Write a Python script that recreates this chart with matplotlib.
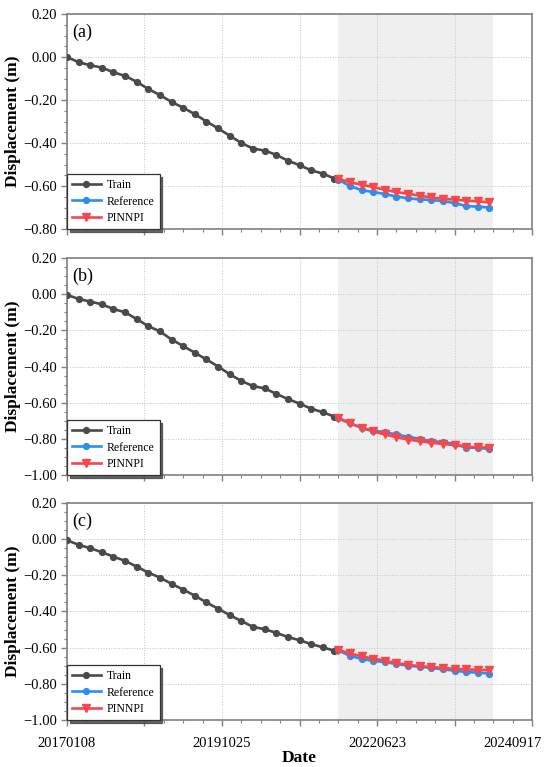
import numpy as np
import matplotlib
matplotlib.use("Agg")
import matplotlib.pyplot as plt
from matplotlib.ticker import MultipleLocator, FuncFormatter

plt.rcParams['font.family'] = ['Liberation Serif', 'DejaVu Serif']
plt.rcParams['axes.unicode_minus'] = True

# sample index of each marker (every 6th acquisition)
step = 6
n_train = 24
n_test = 14
test_start = 140
shade_span = (140, 220)

date_ticks = [0, 80, 160, 230]
date_labels = ['20170108', '20191025', '20220623', '20240917']

# panel (a)
train_a = [0.000, -0.024, -0.038, -0.049, -0.071, -0.088, -0.115, -0.149,
           -0.177, -0.209, -0.236, -0.266, -0.300, -0.332, -0.366, -0.400,
           -0.426, -0.435, -0.455, -0.482, -0.503, -0.527, -0.542, -0.565]
ref_a = [-0.570, -0.600, -0.619, -0.628, -0.637, -0.649, -0.657,
         -0.662, -0.665, -0.670, -0.679, -0.693, -0.696, -0.700]
pinn_a = [-0.566, -0.582, -0.594, -0.605, -0.617, -0.628, -0.636,
          -0.645, -0.653, -0.659, -0.663, -0.668, -0.671, -0.676]

# panel (b)
train_b = [-0.004, -0.026, -0.041, -0.056, -0.082, -0.100, -0.138, -0.177,
           -0.206, -0.251, -0.287, -0.324, -0.361, -0.400, -0.443, -0.480,
           -0.508, -0.521, -0.551, -0.580, -0.605, -0.633, -0.653, -0.677]
ref_b = [-0.683, -0.713, -0.739, -0.754, -0.763, -0.776, -0.789,
         -0.800, -0.813, -0.817, -0.828, -0.848, -0.850, -0.856]
pinn_b = [-0.687, -0.714, -0.739, -0.759, -0.776, -0.791, -0.804,
          -0.813, -0.822, -0.828, -0.835, -0.843, -0.847, -0.848]

# panel (c)
train_c = [-0.006, -0.031, -0.050, -0.072, -0.097, -0.120, -0.152, -0.185,
           -0.213, -0.247, -0.279, -0.313, -0.350, -0.385, -0.420, -0.453,
           -0.485, -0.498, -0.518, -0.541, -0.559, -0.580, -0.598, -0.617]
ref_c = [-0.615, -0.645, -0.662, -0.673, -0.680, -0.690, -0.700,
         -0.705, -0.712, -0.720, -0.727, -0.735, -0.738, -0.743]
pinn_c = [-0.612, -0.631, -0.648, -0.660, -0.672, -0.685, -0.695,
          -0.702, -0.707, -0.712, -0.717, -0.720, -0.723, -0.725]

panels = [('(a)', train_a, ref_a, pinn_a, -0.8),
          ('(b)', train_b, ref_b, pinn_b, -1.0),
          ('(c)', train_c, ref_c, pinn_c, -1.0)]

x_train = np.arange(n_train) * step
x_test = test_start + np.arange(n_test) * step

c_train = '#4a4a4a'
c_ref = '#2a8ff0'
c_pinn = '#f5474c'
spine_c = '#808080'


def yfmt(v, pos):
    if abs(v) < 1e-9:
        v = 0.0
    return f'{v:.2f}'.replace('-', '\u2212')


fig = plt.figure(figsize=(5.5, 7.67), dpi=100)
boxes = [[0.1218, 0.7014, 0.8455, 0.2803],
         [0.1218, 0.3807, 0.8455, 0.2829],
         [0.1218, 0.0613, 0.8455, 0.2829]]

maj = list(range(0, 241, 40))
minor = [t for t in range(0, 241, 10) if t % 40]

for i, (tag, tr, ref, pinn, ymin) in enumerate(panels):
    ax = fig.add_axes(boxes[i])
    ax.axvspan(*shade_span, color='#efefef', zorder=0, lw=0)
    ax.plot(x_train, tr, '-o', color=c_train, lw=1.9, ms=4.2, label='Train', zorder=3)
    ax.plot(x_test, ref, '-o', color=c_ref, lw=1.9, ms=4.2, label='Reference', zorder=3)
    ax.plot(x_test, pinn, '-v', color=c_pinn, lw=1.9, ms=5.2, label='PINNPI', zorder=4)

    ax.set_xticks(maj)
    ax.set_xticks(minor, minor=True)
    ax.set_xlim(0, 240)
    ax.set_ylim(ymin, 0.2)
    ax.yaxis.set_major_locator(MultipleLocator(0.2))
    ax.yaxis.set_minor_locator(MultipleLocator(0.05))
    ax.yaxis.set_major_formatter(FuncFormatter(yfmt))

    if i == 2:
        ax.set_xticklabels([date_labels[date_ticks.index(t)] if t in date_ticks else ''
                            for t in maj])
        ax.set_xticklabels([date_labels[date_ticks.index(t)] if t in date_ticks else ''
                            for t in minor], minor=True)
        ax.set_xlabel('Date', fontsize=12.5, fontweight='bold', labelpad=0)
    else:
        ax.set_xticklabels([])
        ax.set_xticklabels([], minor=True)

    ax.grid(True, which='major', ls=':', lw=0.7, color='#c4c4c4', zorder=1)
    ax.set_axisbelow(True)
    for s in ax.spines.values():
        s.set_color(spine_c)
        s.set_linewidth(1.2)
    ax.tick_params(axis='both', which='major', direction='out', length=4, width=1,
                   color=spine_c, labelsize=10.5, pad=3)
    ax.tick_params(axis='both', which='minor', direction='out', length=2, width=0.8,
                   color=spine_c, labelsize=10.5, pad=5)
    ax.tick_params(axis='x', which='major', pad=8)
    ax.tick_params(axis='x', which='minor', pad=10)
    ax.set_ylabel('Displacement (m)', fontsize=12.5, fontweight='bold', labelpad=2)
    ax.text(0.012, 0.915, tag, transform=ax.transAxes, fontsize=13, va='center', ha='left')

    leg = ax.legend(loc='lower left', borderaxespad=0, fontsize=8.5, fancybox=False,
                    framealpha=1, edgecolor='#333333', handlelength=2.4,
                    borderpad=0.45, labelspacing=0.35, handletextpad=0.5,
                    shadow={'facecolor': '#555555', 'alpha': 0.9})
    leg.get_frame().set_linewidth(0.9)

fig.savefig('out.png', dpi=100)
